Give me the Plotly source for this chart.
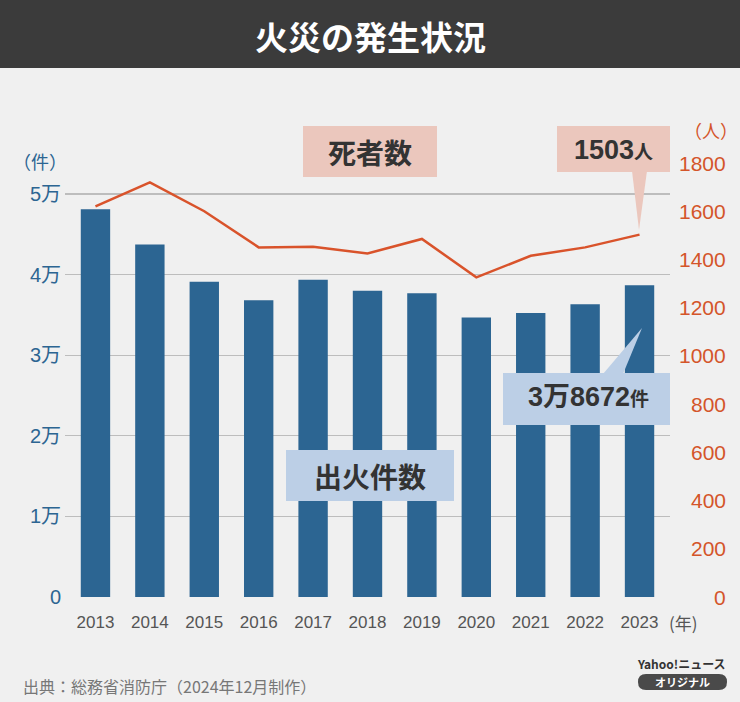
import plotly.graph_objects as go

# ---- data ----
years = [2013, 2014, 2015, 2016, 2017, 2018, 2019, 2020, 2021, 2022, 2023]
year_labels = [str(y) for y in years]
fires = [48095, 43741, 39111, 36831, 39373, 37981, 37683, 34691, 35222, 36314, 38672]
deaths = [1620, 1720, 1600, 1450, 1453, 1425, 1485, 1326, 1415, 1450, 1503]
left_tickvals = [0, 10000, 20000, 30000, 40000, 50000]
left_ticktext = ["0", "1万", "2万", "3万", "4万", "5万"]
right_tickvals = [0, 200, 400, 600, 800, 1000, 1200, 1400, 1600, 1800]

W, H = 740, 702
ML, MR, MT, MB = 65, 70, 150, 105
PW = W - ML - MR
PH = H - MT - MB


def px(x):
    return (x - ML) / PW


def py(y):
    return (H - MB - y) / PH


BLUE = "#2c6592"
ORANGE = "#d4552a"
BG = "#f0f0f0"
JP = "Noto Sans CJK JP"
NUM = "Liberation Sans, Noto Sans CJK JP"

fig = go.Figure()
fig.add_trace(go.Bar(x=years, y=fires, marker=dict(color=BLUE, line=dict(width=0)),
                     width=0.54, yaxis="y", hoverinfo="skip"))
fig.add_trace(go.Scatter(x=years, y=deaths, mode="lines", yaxis="y2",
                         line=dict(color="#d9532b", width=2.5), hoverinfo="skip"))

shapes = []
annotations = []


def text(x, y, t, size, color, family=JP, xanchor="center", yref="paper", yy=None):
    annotations.append(dict(xref="paper", yref=yref, x=px(x), y=(py(y) if yy is None else yy),
                            xanchor=xanchor, yanchor="middle", text=t, showarrow=False,
                            font=dict(family=family, size=size, color=color)))


# title bar
shapes.append(dict(type="rect", xref="paper", yref="paper", x0=px(0), x1=px(W),
                   y0=py(68), y1=py(0), fillcolor="#3b3b3b", line=dict(width=0), layer="above"))
text(370, 36, "<b>火災の発生状況</b>", 33, "white")

# right axis labels (right aligned)
for v in right_tickvals:
    text(728, 0, str(v), 21, ORANGE, family=NUM, xanchor="right", yref="y2", yy=v)

# unit labels
text(40, 161, "（件）", 18, BLUE)
text(711, 130, "（人）", 18, ORANGE)
text(667, 622, "(年)", 17, "#555", xanchor="left")


def box(x0, y0, x1, y1, color):
    shapes.append(dict(type="rect", xref="paper", yref="paper", x0=px(x0), x1=px(x1),
                       y0=py(y1), y1=py(y0), fillcolor=color, line=dict(width=0), layer="above"))


def tri(pts, color):
    path = "M " + " L ".join(f"{px(a)},{py(b)}" for a, b in pts) + " Z"
    shapes.append(dict(type="path", xref="paper", yref="paper", path=path, fillcolor=color,
                       line=dict(width=0), layer="above"))


PINK = "#ebc7bd"
LBLUE = "#bccfe6"
DARK = "#333333"

# 死者数
box(303, 126, 437, 177, PINK)
text(370, 152, "<b>死者数</b>", 28, DARK)

# 1503人
box(557, 126, 670, 172, PINK)
tri([(632, 171), (647, 171), (639, 230)], PINK)
text(613, 150, "<b>1503</b><span style='font-size:19px'><b>人</b></span>", 27, DARK, family=NUM)

# 3万8672件
box(503, 373, 670, 425, LBLUE)
tri([(603, 374), (623, 374), (642, 328)], LBLUE)
text(588, 397, "<b>3万8672</b><span style='font-size:19px'><b>件</b></span>", 27, DARK, family=NUM)

# 出火件数
box(286, 450, 454, 501, LBLUE)
text(370, 476, "<b>出火件数</b>", 28, DARK)

# source
text(21, 686, "出典：総務省消防庁（2024年12月制作）", 16, "#777777", xanchor="left")

# Yahoo logo
text(728, 663, "<b>Yahoo!ニュース</b>", 12, "#333", xanchor="right")


def rounded(x0, y0, x1, y1, r):
    return (f"M {px(x0 + r)},{py(y0)} L {px(x1 - r)},{py(y0)} "
            f"Q {px(x1)},{py(y0)} {px(x1)},{py(y0 + r)} L {px(x1)},{py(y1 - r)} "
            f"Q {px(x1)},{py(y1)} {px(x1 - r)},{py(y1)} L {px(x0 + r)},{py(y1)} "
            f"Q {px(x0)},{py(y1)} {px(x0)},{py(y1 - r)} L {px(x0)},{py(y0 + r)} "
            f"Q {px(x0)},{py(y0)} {px(x0 + r)},{py(y0)} Z")


shapes.append(dict(type="path", xref="paper", yref="paper", path=rounded(638, 674, 727, 690, 8),
                   fillcolor="#4a4a4a", line=dict(width=0), layer="above"))
text(682.5, 682, "<b>オリジナル</b>", 11, "white")

L_MAX = 50000 * PH / 403.0
R_MAX = 1800 * PH / 434.0

fig.update_layout(
    width=W, height=H,
    margin=dict(l=ML, r=MR, t=MT, b=MB, autoexpand=False),
    paper_bgcolor=BG, plot_bgcolor=BG,
    showlegend=False,
    bargap=0.46,
    xaxis=dict(range=[2012.44, 2023.56], tickvals=years, ticktext=year_labels,
               tickfont=dict(family=NUM, size=17, color="#555555"), showgrid=False,
               zeroline=False, showline=False, ticks="", fixedrange=True,
               ticklabelstandoff=13),
    yaxis=dict(range=[0, L_MAX], tickvals=left_tickvals, ticktext=left_ticktext,
               tickfont=dict(family=NUM, size=20, color=BLUE), showgrid=True,
               gridcolor="#bdbdbd", gridwidth=1.3, zeroline=False, showline=False, ticks="",
               ticklabelstandoff=3),
    yaxis2=dict(range=[0, R_MAX], overlaying="y", side="right", showticklabels=False,
                showgrid=False, zeroline=False, showline=False, ticks=""),
    shapes=shapes,
    annotations=annotations,
)

fig.write_html("out.html", config={"displayModeBar": False, "staticPlot": True},
               post_script="document.body.style.margin='0px';document.body.style.overflow='hidden';")
